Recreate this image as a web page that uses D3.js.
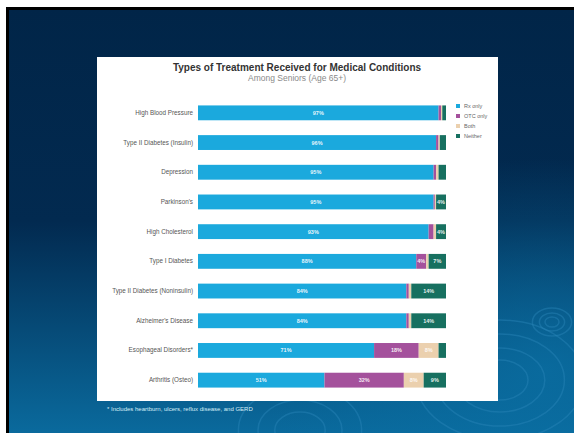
<!DOCTYPE html>
<html><head><meta charset="utf-8">
<script src="https://cdn.jsdelivr.net/npm/d3@7/dist/d3.min.js"></script>
<style>body{margin:0;background:#fff}svg{display:block}</style>
</head><body>
<svg id="c" width="574" height="433"></svg>
<script>
const categories = ["High Blood Pressure","Type II Diabetes (Insulin)","Depression","Parkinson's","High Cholesterol","Type I Diabetes","Type II Diabetes (Noninsulin)","Alzheimer's Disease","Esophageal Disorders*","Arthritis (Osteo)"];
const seriesNames = ["Rx only","OTC only","Both","Neither"];
const rxOnly  = [97,96,95,95,93,88,84,84,71,51];
const otcOnly = [1,1,1,0.5,2,4,1,1,18,32];
const both    = [0.5,0.5,1,0.5,1,1,1,1,8,8];
const neither = [1.5,2.5,3,4,4,7,14,14,3,9];
const colors = ["#1ba9dd","#a4519c","#ebd0ae","#177060"];
const title = "Types of Treatment Received for Medical Conditions";
const subtitle = "Among Seniors (Age 65+)";
const footnote = "* Includes heartburn, ulcers, reflux disease, and GERD";

const svg = d3.select("#c");
const defs = svg.append("defs");
const g1 = defs.append("linearGradient").attr("id","bg").attr("x1",0).attr("y1",0).attr("x2",0).attr("y2",1);
g1.append("stop").attr("offset","0").attr("stop-color","#012548");
g1.append("stop").attr("offset","0.5").attr("stop-color","#022a50");
g1.append("stop").attr("offset","1").attr("stop-color","#0a6a9d");
const g2 = defs.append("radialGradient").attr("id","glow").attr("cx","0.95").attr("cy","0.85").attr("r","0.5");
g2.append("stop").attr("offset","0").attr("stop-color","#0a6fa3").attr("stop-opacity",0.8);
g2.append("stop").attr("offset","1").attr("stop-color","#0a6fa3").attr("stop-opacity",0);

svg.append("rect").attr("x",0).attr("y",0).attr("width",574).attr("height",433).attr("fill","#fff");
svg.append("rect").attr("x",6).attr("y",7).attr("width",568).attr("height",426).attr("fill","#000");
svg.append("rect").attr("x",9).attr("y",10).attr("width",565).attr("height",423).attr("fill","url(#bg)");
svg.append("rect").attr("x",9).attr("y",10).attr("width",565).attr("height",423).attr("fill","url(#glow)");

// ripples
const ripples = svg.append("g").attr("fill","none").attr("stroke","#2a86b8").attr("stroke-opacity",0.45);
[[552,322,[5,9,14]],[500,380,[20,32,46,60]],[300,430,[18,30,44]]].forEach(([cx,cy,rs])=>{
  rs.forEach(r=>ripples.append("ellipse").attr("cx",cx).attr("cy",cy).attr("rx",r*1.4).attr("ry",r).attr("stroke-width",1.5));
});

// panel
svg.append("rect").attr("x",97).attr("y",57).attr("width",401).attr("height",344).attr("fill","#fff");

svg.append("text").attr("x",297).attr("y",71).attr("text-anchor","middle")
  .attr("font-family","Liberation Sans, Arial, sans-serif").attr("font-weight","bold").attr("font-size",10).attr("fill","#333").text(title);
svg.append("text").attr("x",297).attr("y",81).attr("text-anchor","middle")
  .attr("font-family","Liberation Sans, Arial, sans-serif").attr("font-size",8.5).attr("fill","#8a8a8a").text(subtitle);

const data = categories.map((c,i)=>({cat:c, vals:[rxOnly[i],otcOnly[i],both[i],neither[i]]}));
const x = d3.scaleLinear().domain([0,100]).range([198,446]);
const y = d3.scaleBand().domain(categories).range([98,395]).paddingInner(0.5).paddingOuter(0.25);

const stack = d3.stack().keys([0,1,2,3]).value((d,k)=>d.vals[k]);
const layers = stack(data);

const gb = svg.append("g");
layers.forEach((layer,k)=>{
  gb.selectAll(null).data(layer).enter().append("rect")
    .attr("x",d=>x(d[0])).attr("y",d=>y(d.data.cat))
    .attr("width",d=>Math.max(0,x(d[1])-x(d[0]))).attr("height",y.bandwidth())
    .attr("fill",colors[k]);
  gb.selectAll(null).data(layer.filter(d=>d.data.vals[k]>=4)).enter().append("text")
    .attr("x",d=>(x(d[0])+x(d[1]))/2).attr("y",d=>y(d.data.cat)+y.bandwidth()/2+2)
    .attr("text-anchor","middle").attr("font-family","Liberation Sans, Arial, sans-serif")
    .attr("font-size",5.5).attr("font-weight","bold").attr("fill","#fff").attr("fill-opacity",0.9)
    .text(d=>Math.round(d.data.vals[k])+"%");
});

const yAxis = d3.axisLeft(y).tickSize(0).tickPadding(5);
const ga = svg.append("g").attr("transform","translate(198,0)").call(yAxis);
ga.select(".domain").remove();
ga.selectAll("text").attr("font-family","Liberation Sans, Arial, sans-serif").attr("font-size",6.3).attr("fill","#555");

// legend
const lg = svg.append("g").attr("transform","translate(456,104)");
seriesNames.forEach((s,i)=>{
  lg.append("rect").attr("x",0).attr("y",i*10).attr("width",4).attr("height",4).attr("fill",colors[i]);
  lg.append("text").attr("x",8).attr("y",i*10+4).attr("font-family","Liberation Sans, Arial, sans-serif")
    .attr("font-size",5.5).attr("fill","#666").text(s);
});

svg.append("text").attr("x",107).attr("y",411).attr("font-family","Liberation Sans, Arial, sans-serif")
  .attr("font-size",6).attr("fill","#d8eef8").text(footnote);
</script>
</body></html>
